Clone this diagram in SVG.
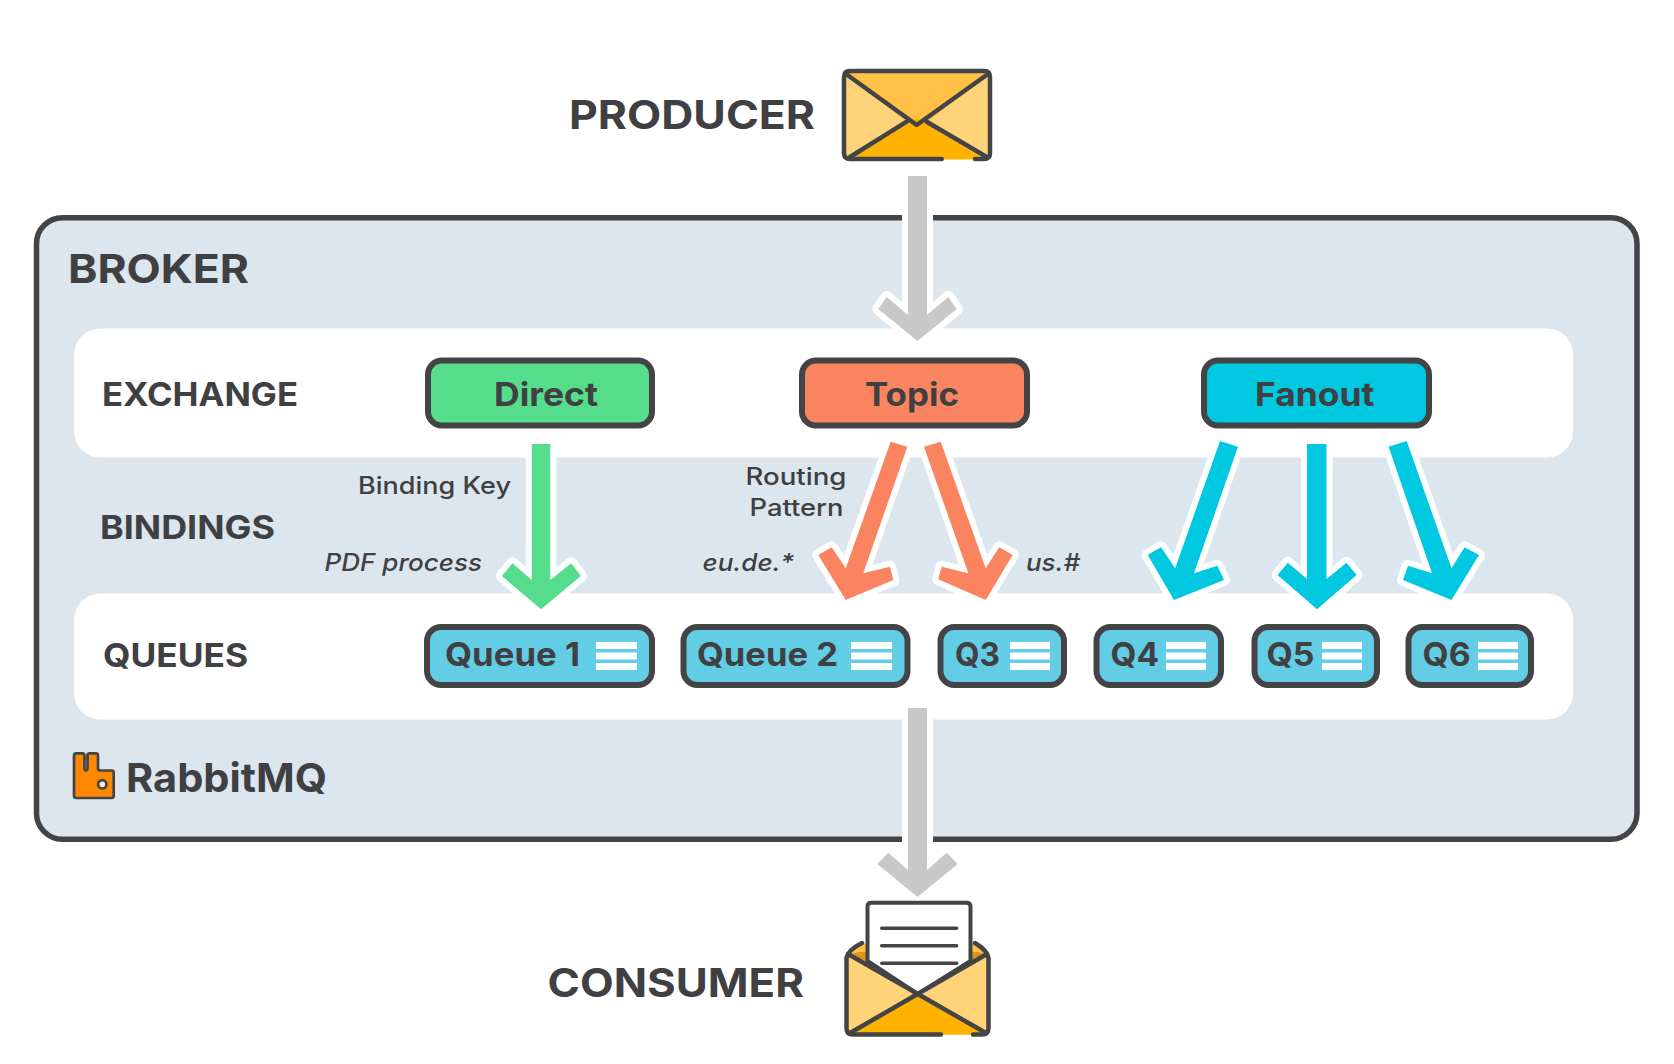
<svg xmlns="http://www.w3.org/2000/svg" width="1674" height="1064" viewBox="0 0 1674 1064">
<style>
text{font-family:Inter,"Liberation Sans",sans-serif;fill:#404042}
.h1{font-size:40px;font-weight:700}
.h2{font-size:33px;font-weight:700}
.n{font-size:33px;font-weight:700}
.q{font-size:33px;font-weight:700}
.s{font-size:24px;font-weight:500}
.i{font-size:24px;font-weight:500;font-style:italic}
.band{fill:#fff}
.box{stroke:#444446;stroke-width:6}
.queue{fill:#62cde4}
.bar{fill:#fff}
.ln{stroke:#444446;stroke-width:4.500;fill:none;stroke-linecap:round}
.arrow{stroke:#fff;stroke-width:12;stroke-linejoin:round;paint-order:stroke}
.gray{fill:#c8c8c8}.green{fill:#55dd8c}.red{fill:#f9845f}.cyan{fill:#00c8e0}
.lt{fill:#ffd479}.mid{fill:#ffc247}.dp{fill:#ffb300}
</style>

<g id="broker">
<rect x="36.5" y="217.700" width="1600.5" height="621.5" rx="26" fill="#dce6ef" stroke="#444446" stroke-width="5.500"/>
<text class="h1" x="68" y="283" textLength="181" lengthAdjust="spacingAndGlyphs">BROKER</text>
</g>
<g id="exchange-band">
<rect class="band" x="74.200" y="328.500" width="1498.800" height="129" rx="26"/>
<text class="h2" x="102" y="406" textLength="196" lengthAdjust="spacingAndGlyphs">EXCHANGE</text>
</g>
<g id="bindings-label">
<text class="h2" x="100" y="539" textLength="175" lengthAdjust="spacingAndGlyphs">BINDINGS</text>
</g>
<g id="queues-band">
<rect class="band" x="74.200" y="593.500" width="1498.800" height="126" rx="26"/>
<text class="h2" x="103" y="667" textLength="145" lengthAdjust="spacingAndGlyphs">QUEUES</text>
</g>

<g id="connectors">
<polygon class="arrow gray" points="908,176 927,176 927,315 948.300,297 956.700,309 917.500,341 878.300,309 886.700,297 908,315"/>
<polygon class="arrow green" points="531.800,444 550.300,444 550.300,580 571.300,563.300 581,576 541,609.300 501.900,576 512.400,563.300 531.800,580"/>
<polygon class="arrow red" points="890.700,441.700 907.300,446.700 863.300,573.300 890,566.700 893.300,580 845.700,600 818.300,555 831.700,547.300 845.700,568.300"/>
<polygon class="arrow red" points="924,446.700 940.700,441.700 985.700,568.300 999.300,547.300 1012.700,555 985.700,600 938.300,579.300 941.700,566.700 968.300,573.300"/>
<polygon class="arrow cyan" points="1220,441 1238,446.700 1194,573.300 1217.400,565.700 1224,580 1174,600 1147.700,555 1161,547.300 1175.200,568.300"/>
<polygon class="arrow cyan" points="1307,444 1326.500,444 1326.500,579 1346.500,562.700 1356.600,575 1317,609.300 1277.600,575 1287.800,562.700 1307,579"/>
<polygon class="arrow cyan" points="1388.600,446.700 1406.700,441 1451.500,568.300 1464.600,547.300 1479,555 1451.500,600 1403,580 1408,565.700 1432,573.300"/>
<polygon class="arrow gray" points="908,708 927,708 927,870 946.700,852.700 957.700,864 917.500,897 877.300,864 888.300,852.700 908,870"/>
</g>

<g id="producer">
<text class="h1" x="569" y="128.500" textLength="246" lengthAdjust="spacingAndGlyphs">PRODUCER</text>
<rect class="mid" x="844" y="71" width="146" height="88" rx="6"/>
<polygon class="lt" points="845,75 907,122 850,157 845,157"/>
<polygon class="lt" points="989,75 927,122 984,157 989,157"/>
<polygon class="dp" points="850,159.500 917,118 984,159.500"/>
<path class="ln" d="M941.700,159H850Q844,159 844,153V77Q844,71 850,71H984Q990,71 990,77V153Q990,159 984,159H975"/>
<path class="ln" d="M846,74L916.700,125L988,74M850,157L906.700,121.700M986.700,157L926.700,121.700" stroke-linejoin="round"/>
</g>

<g id="direct">
<rect class="box" x="428" y="360.500" width="224" height="65" rx="14" fill="#55dd8c"/>
<text class="n" x="494" y="406" textLength="104" lengthAdjust="spacingAndGlyphs">Direct</text>
</g>
<g id="topic">
<rect class="box" x="802" y="360.500" width="225" height="65" rx="14" fill="#f9845f"/>
<text class="n" x="865" y="406" textLength="94" lengthAdjust="spacingAndGlyphs">Topic</text>
</g>
<g id="fanout">
<rect class="box" x="1204" y="360.500" width="225" height="65" rx="14" fill="#00c8e0"/>
<text class="n" x="1255" y="406" textLength="119.600" lengthAdjust="spacingAndGlyphs">Fanout</text>
</g>

<g id="binding-labels">
<text class="s" x="358" y="494" textLength="153" lengthAdjust="spacingAndGlyphs">Binding Key</text>
<text class="i" x="324.500" y="570.700" textLength="157.500" lengthAdjust="spacingAndGlyphs">PDF process</text>
<text class="s" x="745.500" y="485" textLength="101" lengthAdjust="spacingAndGlyphs">Routing</text>
<text class="s" x="749.500" y="516" textLength="94" lengthAdjust="spacingAndGlyphs">Pattern</text>
<text class="i" x="702.500" y="570.700" textLength="91.500" lengthAdjust="spacingAndGlyphs">eu.de.*</text>
<text class="i" x="1026" y="570.700" textLength="54" lengthAdjust="spacingAndGlyphs">us.#</text>
</g>

<g id="queue1">
<rect class="box queue" x="427" y="627" width="225" height="58" rx="14"/>
<text class="q" x="445" y="665.700" textLength="135" lengthAdjust="spacingAndGlyphs">Queue 1</text>
<path class="bar" d="M596,642h41v7h-41zM596,652.500h41v7h-41zM596,663h41v7h-41z"/>
</g>
<g id="queue2">
<rect class="box queue" x="683.500" y="627" width="224" height="58" rx="14"/>
<text class="q" x="697" y="665.700" textLength="141" lengthAdjust="spacingAndGlyphs">Queue 2</text>
<path class="bar" d="M851,642h41v7h-41zM851,652.500h41v7h-41zM851,663h41v7h-41z"/>
</g>
<g id="q3">
<rect class="box queue" x="940.500" y="627" width="123.500" height="58" rx="14"/>
<text class="q" x="955" y="665.700" textLength="45" lengthAdjust="spacingAndGlyphs">Q3</text>
<path class="bar" d="M1010,642h40v7h-40zM1010,652.500h40v7h-40zM1010,663h40v7h-40z"/>
</g>
<g id="q4">
<rect class="box queue" x="1096.500" y="627" width="124.500" height="58" rx="14"/>
<text class="q" x="1110.500" y="665.700" textLength="48.500" lengthAdjust="spacingAndGlyphs">Q4</text>
<path class="bar" d="M1166,642h40v7h-40zM1166,652.500h40v7h-40zM1166,663h40v7h-40z"/>
</g>
<g id="q5">
<rect class="box queue" x="1254.500" y="627" width="122.500" height="58" rx="14"/>
<text class="q" x="1266.500" y="665.700" textLength="48" lengthAdjust="spacingAndGlyphs">Q5</text>
<path class="bar" d="M1322,642h40v7h-40zM1322,652.500h40v7h-40zM1322,663h40v7h-40z"/>
</g>
<g id="q6">
<rect class="box queue" x="1408.500" y="627" width="122.500" height="58" rx="14"/>
<text class="q" x="1422.600" y="665.700" textLength="48" lengthAdjust="spacingAndGlyphs">Q6</text>
<path class="bar" d="M1478,642h40v7h-40zM1478,652.500h40v7h-40zM1478,663h40v7h-40z"/>
</g>

<g id="rabbitmq">
<path d="M74,755.500Q74,753.300 76,753.300H82.500Q84.500,753.300 84.500,755.500V768Q84.500,770.500 86,770.500Q87.500,770.500 87.500,768V755.500Q87.500,753.300 89.500,753.300H96Q98,753.300 98,755.500V768Q98,770.500 100,770.500H111.500Q113.700,770.500 113.700,772.500V795.500Q113.700,798 111.500,798H76Q74,798 74,795.500Z" fill="#ff8800" stroke="#444446" stroke-width="2.700"/>
<circle cx="102.300" cy="784.300" r="4.200" fill="#ffe7c8" stroke="#444446" stroke-width="2.700"/>
<text class="h1" x="126" y="792" textLength="201" lengthAdjust="spacingAndGlyphs">RabbitMQ</text>
</g>

<g id="consumer">
<text class="h1" x="547.500" y="996.500" textLength="256.500" lengthAdjust="spacingAndGlyphs">CONSUMER</text>
<polygon class="mid" points="848,955 862,944 975,944 987,955 917,993"/>
<polygon points="848,955 858,952 978,952 987,955 917,993" fill="#d9971f"/>
<path d="M867.500,961V906.500Q867.500,902.700 871.500,902.700H966.500Q970.500,902.700 970.500,906.500V961L917.700,994Z" fill="#fff" stroke="#444446" stroke-width="4"/>
<path d="M881.700,928.300H956.700M881.700,945.700H956.700M881.700,963.300H956.700" class="ln" stroke-linecap="butt" style="stroke-width:3.500"/>
<polygon class="lt" points="848,955 917.700,994 850,1034 847,1034"/>
<polygon class="lt" points="987,955 917.700,994 985,1034 989,1034"/>
<polygon class="dp" points="850,1034.800 917.700,994 985,1034.800"/>
<path class="ln" d="M941,1034.500H853Q846.500,1034.500 846.500,1028V958Q848,950 862,943M973,1034.500H982Q988.500,1034.500 988.500,1028V958Q987,950 975,943"/>
<path class="ln" d="M848,954L986,1033M987,954L850,1033"/>
</g>
</svg>
